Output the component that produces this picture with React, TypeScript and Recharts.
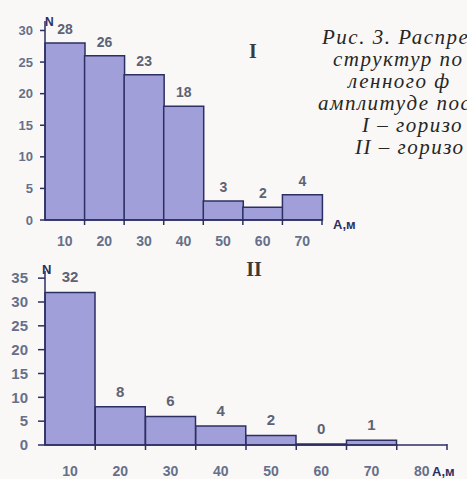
import React from 'react';
import { BarChart, Bar, XAxis, YAxis, LabelList } from 'recharts';

// Horizon I
const amplitudesI = ['10', '20', '30', '40', '50', '60', '70'];
const countsI = [28, 26, 23, 18, 3, 2, 4];
const yTicksI = [0, 5, 10, 15, 20, 25, 30];

// Horizon II (the 80 m bin is empty)
const amplitudesII = ['10', '20', '30', '40', '50', '60', '70', '80'];
const countsII: (number | null)[] = [32, 8, 6, 4, 2, 0, 1, null];
const yTicksII = [0, 5, 10, 15, 20, 25, 30, 35];

const captionLines = [
  'Рис. 3. Распре',
  'структур по',
  'ленного ф',
  'амплитуде пос',
  'I – горизо',
  'II – горизо',
];

const dataI = amplitudesI.map((a, i) => ({ a, n: countsI[i] }));
const dataII = amplitudesII.map((a, i) => ({ a, n: countsII[i] }));

const AXIS = '#2c2f62';
const FILL = '#a09fd9';
const TICK = '#66708a';
const LABEL = '#5c6375';
const SANS = '"Liberation Sans", Arial, sans-serif';

// category tick: label in the middle of the bin, short mark at its right edge
const makeXTick = (band: number, fontSize: number, dy: number) => (props: any) => {
  const { x, y, payload } = props;
  return (
    <g>
      <line x1={x + band / 2} x2={x + band / 2} y1={y - 1} y2={y + 5} stroke={AXIS} strokeWidth={1.5} />
      <text x={x} y={y + dy} textAnchor="middle" fontSize={fontSize} fontWeight="bold" fill={TICK} fontFamily={SANS}>
        {payload.value}
      </text>
    </g>
  );
};

export default function App() {
  return (
    <div style={{ position: 'fixed', left: 0, top: 0, width: 467, height: 479, background: '#faf8f7', overflow: 'hidden' }}>
      <div style={{ position: 'absolute', left: 0, top: 0 }}>
        <BarChart width={467} height={250} data={dataI} barCategoryGap={0} margin={{ top: 21, right: 145, bottom: 0, left: 0 }}>
          <XAxis
            dataKey="a"
            height={30}
            stroke={AXIS}
            strokeWidth={1.5}
            tickLine={false}
            tickSize={0}
            tickMargin={0}
            interval={0}
            tick={makeXTick(277 / 7, 14, 26)}
          />
          <YAxis
            width={45}
            domain={[0, 31.5]}
            ticks={yTicksI}
            stroke={AXIS}
            strokeWidth={1.5}
            tickSize={5}
            tickMargin={7}
            tick={{ fontSize: 13, fontWeight: 'bold', fill: TICK, fontFamily: SANS }}
          />
          <Bar dataKey="n" fill={FILL} stroke={AXIS} strokeWidth={1.5} isAnimationActive={false}>
            <LabelList dataKey="n" position="top" offset={9} fontSize={14} fontWeight="bold" fill={LABEL} fontFamily={SANS} />
          </Bar>
        </BarChart>
      </div>
      <div style={{ position: 'absolute', left: 0, top: 250 }}>
        <BarChart width={467} height={229} data={dataII} barCategoryGap={0} margin={{ top: 21, right: 20, bottom: 0, left: 0 }}>
          <XAxis
            dataKey="a"
            height={34}
            stroke={AXIS}
            strokeWidth={1.5}
            tickLine={false}
            tickSize={0}
            tickMargin={0}
            interval={0}
            tick={makeXTick(402 / 8, 14, 31)}
          />
          <YAxis
            width={45}
            domain={[0, 36.5]}
            ticks={yTicksII}
            stroke={AXIS}
            strokeWidth={1.5}
            tickSize={7}
            tickMargin={10}
            tick={{ fontSize: 15, fontWeight: 'bold', fill: TICK, fontFamily: SANS }}
          />
          <Bar dataKey="n" fill={FILL} stroke={AXIS} strokeWidth={1.5} minPointSize={1} isAnimationActive={false}>
            <LabelList dataKey="n" position="top" offset={10} fontSize={15} fontWeight="bold" fill={LABEL} fontFamily={SANS} />
          </Bar>
        </BarChart>
      </div>
      <svg width={467} height={479} style={{ position: 'absolute', left: 0, top: 0, pointerEvents: 'none' }}>
        <g fontFamily={SANS} fontWeight="bold" fill={AXIS}>
          <text x={45} y={26} fontSize={12}>N</text>
          <text x={42} y={274} fontSize={13}>N</text>
          <text x={333} y={229} fontSize={13}>A,м</text>
          <text x={432} y={476} fontSize={13}>A,м</text>
        </g>
        <g fontFamily='"Liberation Serif", serif' fontWeight="bold" fill="#3a3a3a">
          <text x={253} y={58} fontSize={20} textAnchor="middle">I</text>
          <text x={254} y={276} fontSize={20} textAnchor="middle">II</text>
        </g>
        <g fontFamily='"Liberation Serif", serif' fontStyle="italic" fontSize={21} letterSpacing={1.5} fill="#262626">
          <text x={322} y={44}>{captionLines[0]}</text>
          <text x={333} y={66}>{captionLines[1]}</text>
          <text x={348} y={88}>{captionLines[2]}</text>
          <text x={318} y={110}>{captionLines[3]}</text>
          <text x={362} y={132}>{captionLines[4]}</text>
          <text x={355} y={154}>{captionLines[5]}</text>
        </g>
      </svg>
    </div>
  );
}
